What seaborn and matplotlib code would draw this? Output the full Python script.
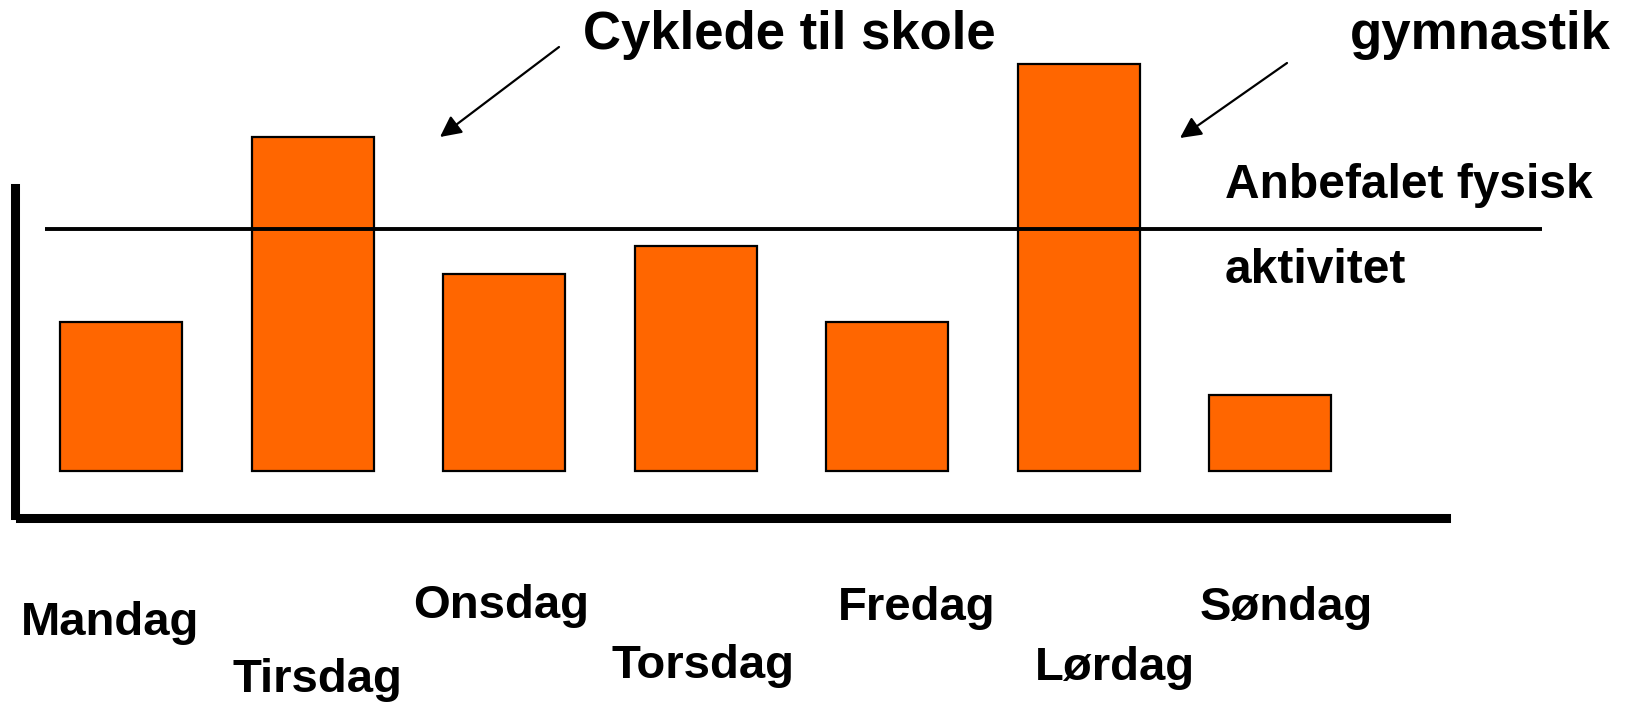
import matplotlib
matplotlib.use("Agg")
import matplotlib.pyplot as plt
import seaborn as sns
import pandas as pd

# ---- data ----
days = ["Mandag", "Tirsdag", "Onsdag", "Torsdag", "Fredag", "Lørdag", "Søndag"]
activity = [37, 83, 49, 56, 37, 101, 19]
recommended = 60
annotations = ["Cyklede til skole", "gymnastik"]
ref_label = ["Anbefalet fysisk", "aktivitet"]

sns.set_style("white")
plt.rcParams["font.family"] = ["Liberation Sans", "DejaVu Sans"]
plt.rcParams["font.weight"] = "bold"
plt.rcParams["text.color"] = "black"

W, H = 1631, 705
fig = plt.figure(figsize=(W / 100, H / 100), dpi=100)
ax = fig.add_axes([0, 0, 1, 1])

df = pd.DataFrame({"day": days, "value": activity})
sns.barplot(data=df, x="day", y="value", color="#FF6600", saturation=1,
            edgecolor="black", linewidth=1.6, width=0.637, ax=ax)

# scale: pixel layout
ax.set_xlim(-0.632, 7.885)
ax.set_ylim(-58.1, 117.0)
ax.set_xlabel("")
ax.set_ylabel("")
ax.set_xticks([])
ax.set_yticks([])
ax.patch.set_alpha(0)

for s in ["top", "right"]:
    ax.spines[s].set_visible(False)
ax.spines["left"].set_position(("data", -0.555))
ax.spines["bottom"].set_position(("data", -11.55))
ax.spines["left"].set_bounds(-11.0, 70.2)
ax.spines["bottom"].set_bounds(-0.53, 6.92)
for s in ["left", "bottom"]:
    ax.spines[s].set_linewidth(6.5)
    ax.spines[s].set_color("black")

# recommended activity line
ax.hlines(recommended, -0.397, 7.42, color="black", linewidth=2.8, zorder=5)

def fx(x):
    return x / W

def fy(y):
    return 1 - y / H

# top annotations
fig.text(fx(583), fy(49), annotations[0], fontsize=38, fontweight="bold",
         va="baseline", ha="left", color="black")
fig.text(fx(1350), fy(49), annotations[1], fontsize=38, fontweight="bold",
         va="baseline", ha="left", color="black")

arrow = dict(arrowstyle="-|>", lw=1.6, color="black", mutation_scale=32,
             shrinkA=0, shrinkB=0)
fig.add_artist(plt.Annotation("", xy=(fx(440), fy(137)), xycoords="figure fraction",
                              xytext=(fx(559), fy(47)), textcoords="figure fraction",
                              arrowprops=arrow))
fig.add_artist(plt.Annotation("", xy=(fx(1180), fy(138)), xycoords="figure fraction",
                              xytext=(fx(1287), fy(63)), textcoords="figure fraction",
                              arrowprops=arrow))

# reference line label
fig.text(fx(1225), fy(198), ref_label[0], fontsize=34.5, fontweight="bold",
         va="baseline", ha="left", color="black")
fig.text(fx(1225), fy(283), ref_label[1], fontsize=34.5, fontweight="bold",
         va="baseline", ha="left", color="black")

# staggered day labels
label_pos = [(21, 635), (233, 692), (413, 618), (612, 678),
             (838, 620), (1035, 680), (1200, 620)]
for name, (lx, ly) in zip(days, label_pos):
    fig.text(fx(lx), fy(ly), name, fontsize=34, fontweight="bold",
             va="baseline", ha="left", color="black")

fig.savefig("out.png", dpi=100)
